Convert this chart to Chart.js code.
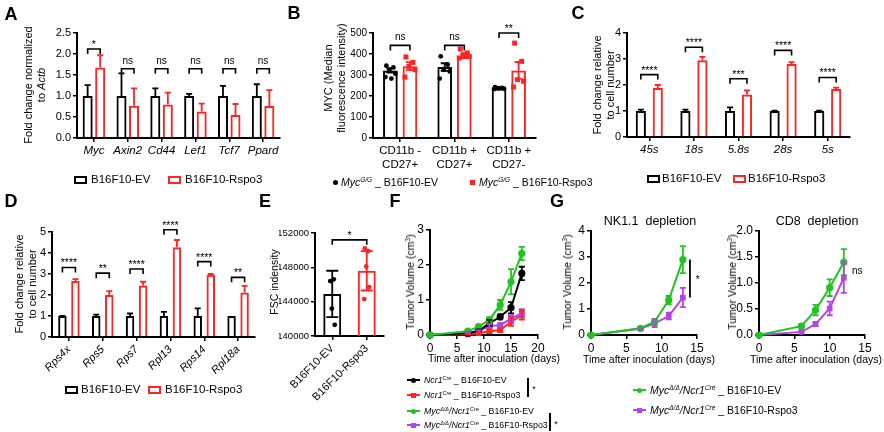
<!DOCTYPE html>
<html>
<head>
<meta charset="utf-8">
<script src="https://cdn.jsdelivr.net/npm/chart.js@4.4.1/dist/chart.umd.min.js"></script>
<style>
body { margin: 0; background: #fff; }
#fig { position: relative; width: 884px; height: 432px; overflow: hidden; background: #fff; color: #000;
       font-family: 'Liberation Sans', Arial, Helvetica, sans-serif; }
#fig canvas { position: absolute; left: 0; top: 0; pointer-events: none; }
.t { position: absolute; white-space: nowrap; line-height: 1.15; text-align: center; }
.t sup { font-size: 0.62em; line-height: 0; vertical-align: 0.6em; }
.b { position: absolute; box-sizing: border-box; }
</style>
</head>
<body>
<div id="fig"></div>
<script>
// ---- A: Wnt target genes
const genesA = ['Myc', 'Axin2', 'Cd44', 'Lef1', 'Tcf7', 'Ppard'];
const evA = [1, 1, 1, 1, 1, 1];
const evErrA = [0.26, 0.54, 0.18, 0.05, 0.24, 0.28];
const rspoA = [1.68, 0.77, 0.80, 0.63, 0.55, 0.76];
const rspoErrA = [0.29, 0.41, 0.28, 0.19, 0.26, 0.38];
const sigA = ['*', 'ns', 'ns', 'ns', 'ns', 'ns'];

// ---- B: MYC MFI in NK subsets
const subsetsB = [['CD11b -', 'CD27+'], ['CD11b +', 'CD27+'], ['CD11b +', 'CD27-']];
const evB = [322, 338, 236];
const evErrB = [10, 18, 2];
const rspoB = [342, 390, 322];
const rspoErrB = [19, 9, 40];
const evDotsB = [[344, 336, 325, 306, 290, 283], [389, 349, 325, 317, 283], [242, 239, 237, 235, 233]];
const rspoDotsB = [[386, 360, 341, 325, 290], [424, 405, 397, 389, 381], [452, 365, 278, 270, 243]];
const sigB = ['ns', 'ns', '**'];

// ---- C: rRNA
const rrnaC = ['45s', '18s', '5.8s', '28s', '5s'];
const evC = [1, 1, 1, 1, 1];
const evErrC = [0.05, 0.05, 0.14, 0.01, 0.01];
const rspoC = [1.88, 2.95, 1.63, 2.81, 1.85];
const rspoErrC = [0.12, 0.13, 0.16, 0.07, 0.05];
const sigC = ['****', '****', '***', '****', '****'];

// ---- D: ribosomal protein genes
const genesD = ['Rps4x', 'Rps5', 'Rps7', 'Rpl13', 'Rps14', 'Rpl18a'];
const evD = [1, 1, 1, 1, 1, 1];
const evErrD = [0.01, 0.07, 0.12, 0.2, 0.36, 0];
const rspoD = [2.67, 2.0, 2.45, 4.27, 2.96, 2.12];
const rspoErrD = [0.09, 0.18, 0.18, 0.35, 0.04, 0.31];
const sigD = ['****', '**', '****', '****', '****', '**'];

// ---- E: FSC
const groupsE = ['B16F10-EV', 'B16F10-Rspo3'];
const meanE = [144900, 147600];
const sdE = [2700, 2300];
const dotsE = [[146400, 146600, 143200, 141300], [150200, 149900, 148100, 145700, 144300]];

// ---- F: tumour growth, Ncr1Cre mice
const daysF = [0, 7, 9, 11, 13, 15, 17];
const ncrEvF = [0, 0.05, 0.12, 0.33, 0.52, 0.78, 1.76];
const ncrEvErrF = [0, 0.02, 0.04, 0.1, 0.07, 0.16, 0.19];
const ncrRspoF = [0, 0.02, 0.05, 0.11, 0.14, 0.38, 0.57];
const ncrRspoErrF = [0, 0.01, 0.02, 0.05, 0.04, 0.12, 0.13];
const mycEvF = [0, 0.11, 0.24, 0.43, 0.86, 1.52, 2.33];
const mycEvErrF = [0, 0.02, 0.05, 0.08, 0.14, 0.36, 0.19];
const mycRspoF = [0, 0.05, 0.1, 0.26, 0.28, 0.47, 0.62];
const mycRspoErrF = [0, 0.02, 0.03, 0.05, 0.05, 0.1, 0.12];

// ---- G: depletion experiments
const daysG1 = [0, 7, 9, 11, 13];
const evG1 = [0, 0.26, 0.51, 1.34, 2.9];
const evErrG1 = [0, 0.03, 0.1, 0.16, 0.52];
const rspoG1 = [0, 0.24, 0.45, 0.73, 1.44];
const rspoErrG1 = [0, 0.02, 0.15, 0.13, 0.37];
const daysG2 = [0, 6, 8, 10, 12];
const evG2 = [0, 0.17, 0.48, 0.91, 1.4];
const evErrG2 = [0, 0.01, 0.1, 0.16, 0.25];
const rspoG2 = [0, 0.06, 0.21, 0.51, 1.1];
const rspoErrG2 = [0, 0.01, 0.04, 0.13, 0.29];

const ncrName = '<i>Ncr1<sup>Cre</sup></i>';
const mycName = '<i>Myc<sup>Δ/Δ</sup>/Ncr1<sup>Cre</sup></i>';
const seriesF = [ncrName + ' _ B16F10-EV', ncrName + ' _ B16F10-Rspo3', mycName + ' _ B16F10-EV', mycName + ' _ B16F10-Rspo3'];

const W = 884, H = 432;
const FONT = "'Liberation Sans', Arial, Helvetica, sans-serif";
const RED = '#ff2323', GREEN = '#20c420', PURPLE = '#b244e8';
const fig = document.getElementById('fig');

const pick = (v, i) => Array.isArray(v) ? v[i] : v;

// error bars from dataset.err (up only, or both ways)
const errPlugin = {
    id: 'errs',
    afterDatasetsDraw(chart) {
        const ctx = chart.ctx, ys = chart.scales.y;
        chart.data.datasets.forEach((ds, di) => {
            if (!ds.err) return;
            const meta = chart.getDatasetMeta(di);
            meta.data.forEach((el, i) => {
                const d = ds.data[i];
                const v = typeof d === 'object' ? d.y : d;
                const e = ds.err[i];
                if (!e) return;
                const top = ys.getPixelForValue(v + e);
                const bot = ys.getPixelForValue(ds.errBoth ? v - e : v);
                const c = ds.cap || 3;
                ctx.save();
                ctx.strokeStyle = pick(ds.borderColor, i);
                ctx.lineWidth = 1.8;
                ctx.beginPath();
                ctx.moveTo(el.x, top); ctx.lineTo(el.x, bot);
                ctx.moveTo(el.x - c, top); ctx.lineTo(el.x + c, top);
                if (ds.errBoth) { ctx.moveTo(el.x - c, bot); ctx.lineTo(el.x + c, bot); }
                ctx.stroke();
                ctx.restore();
            });
        });
    }
};

// individual points on bars
const JIT = [-4, 3, -1, 5, -5, 1, 2];
const dotPlugin = {
    id: 'dots',
    afterDatasetsDraw(chart) {
        const ctx = chart.ctx, ys = chart.scales.y;
        chart.data.datasets.forEach((ds, di) => {
            if (!ds.dots) return;
            const meta = chart.getDatasetMeta(di);
            meta.data.forEach((el, i) => {
                ctx.fillStyle = pick(ds.dotColor, i);
                ds.dots[i].forEach((v, k) => {
                    const x = el.x + JIT[k % JIT.length] * (ds.jit || 1);
                    const y = ys.getPixelForValue(v);
                    const shape = pick(ds.dotShape, i);
                    ctx.beginPath();
                    if (shape === 'rect') ctx.rect(x - 2.5, y - 2.5, 5, 5);
                    else ctx.arc(x, y, 2.4, 0, Math.PI * 2);
                    ctx.fill();
                });
            });
        });
    }
};

// significance brackets and marks
const sigPlugin = {
    id: 'sig',
    afterDraw(chart, args, o) {
        const ctx = chart.ctx, ys = chart.scales.y, xs = chart.scales.x;
        ctx.save();
        ctx.strokeStyle = '#000';
        ctx.fillStyle = '#000';
        ctx.lineWidth = 1.6;
        ctx.textAlign = 'center';
        ctx.textBaseline = 'alphabetic';
        (o.brackets || []).forEach(b => {
            const x1 = chart.getDatasetMeta(b.a[0]).data[b.a[1]].x;
            const x2 = chart.getDatasetMeta(b.b[0]).data[b.b[1]].x;
            const y = ys.getPixelForValue(b.y);
            ctx.beginPath();
            ctx.moveTo(x1, y + 5); ctx.lineTo(x1, y); ctx.lineTo(x2, y); ctx.lineTo(x2, y + 5);
            ctx.stroke();
            const star = b.text.indexOf('*') >= 0;
            ctx.font = (star ? 10.5 : 10) + 'px ' + FONT;
            ctx.fillText(b.text, (x1 + x2) / 2, y - (star ? 1 : 5));
        });
        (o.marks || []).forEach(m => {
            if (m.y1 !== undefined) {
                const x = xs.getPixelForValue(m.x);
                ctx.lineWidth = 1.8;
                ctx.beginPath();
                ctx.moveTo(x, ys.getPixelForValue(m.y1)); ctx.lineTo(x, ys.getPixelForValue(m.y2));
                ctx.stroke();
            }
            ctx.font = '10px ' + FONT;
            ctx.textBaseline = 'middle';
            ctx.fillText(m.text, xs.getPixelForValue(m.tx), ys.getPixelForValue(m.ty));
        });
        ctx.restore();
    }
};

function yScale(min, max, step, size, fmt) {
    return {
        type: 'linear', min, max,
        ticks: { stepSize: step, color: '#000', padding: 2, font: { family: FONT, size }, callback: fmt || (v => String(v)) },
        grid: { drawOnChartArea: false, color: '#000', lineWidth: 1.5, tickLength: 4 },
        border: { color: '#000', width: 2 }
    };
}
function catScale(size, italic, rot) {
    return {
        type: 'category', offset: true,
        ticks: { color: '#000', padding: 2, autoSkip: false, minRotation: rot || 0, maxRotation: rot || 0,
                 font: { family: FONT, size, style: italic ? 'italic' : 'normal' } },
        grid: { offset: false, drawOnChartArea: false, color: '#000', lineWidth: 1.5, tickLength: 4 },
        border: { color: '#000', width: 2 }
    };
}

// one transparent full-size canvas per panel, chart area pinned to [left, top, right, bottom]
function makeChart(type, labels, datasets, area, yW, xH, scales, sig) {
    const cv = document.createElement('canvas');
    cv.width = W; cv.height = H;
    fig.appendChild(cv);
    scales.x.afterFit = s => { s.height = xH; };
    scales.y.afterFit = s => { s.width = yW; };
    return new Chart(cv, {
        type,
        data: { labels, datasets },
        options: {
            responsive: false, animation: false, events: [],
            layout: { padding: { left: area[0] - yW, top: area[1], right: W - area[2], bottom: H - area[3] - xH } },
            plugins: { legend: { display: false }, tooltip: { enabled: false }, sig: sig || {} },
            scales
        },
        plugins: [errPlugin, dotPlugin, sigPlugin]
    });
}

function txt(html, x, y, size, o = {}) {
    const d = document.createElement('div');
    d.className = 't';
    d.innerHTML = html;
    d.style.left = x + 'px';
    d.style.top = y + 'px';
    d.style.fontSize = size + 'px';
    if (o.bold) d.style.fontWeight = 'bold';
    d.style.transform = o.left ? 'translateY(-50%)' : 'translate(-50%,-50%)' + (o.rot ? ' rotate(' + o.rot + 'deg)' : '');
    fig.appendChild(d);
    return d;
}
function rect(x, y, w, h, css) {
    const d = document.createElement('div');
    d.className = 'b';
    d.style.cssText += `left:${x}px;top:${y}px;width:${w}px;height:${h}px;` + css;
    fig.appendChild(d);
}
function boxKey(x, y, color, html, tx) {
    rect(x, y - 4, 13, 8, `border:2px solid ${color};`);
    txt(html, tx, y, 11.5, { left: true });
}
function lineKey(x, y, color, shape, html, size) {
    rect(x, y - 1, 13, 2, `background:${color};`);
    rect(x + 4, y - 2.5, 5, 5, `background:${color};` + (shape === 'circle' ? 'border-radius:50%;' : ''));
    txt(html, x + 17, y, size, { left: true });
}
const fixed1 = v => v.toFixed(1);
const pts = (xs, ys) => xs.map((x, i) => ({ x, y: ys[i] }));

function barPair(ev, evErr, rs, rsErr, cat, bar) {
    return [
        { data: ev, err: evErr, borderColor: '#000', backgroundColor: 'rgba(0,0,0,0)', borderWidth: 2, categoryPercentage: cat, barPercentage: bar },
        { data: rs, err: rsErr, borderColor: RED, backgroundColor: 'rgba(0,0,0,0)', borderWidth: 2, categoryPercentage: cat, barPercentage: bar }
    ];
}
function brackets(sig, heights) {
    return sig.map((s, i) => ({ a: [0, i], b: [1, i], y: heights[i], text: s }));
}

// ---------- A
makeChart('bar', genesA, barPair(evA, evErrA, rspoA, rspoErrA, 0.74, 0.8), [77, 33, 280, 138], 30, 24,
    { x: catScale(11.5, true), y: yScale(0, 2.5, 0.5, 11, fixed1) },
    { brackets: brackets(sigA, [2.12, 1.65, 1.65, 1.65, 1.65, 1.65]) });
txt('Fold change normalized<br>to <i>Actb</i>', 35, 85, 11, { rot: -90 });
boxKey(74, 180, '#000', 'B16F10-EV', 91);
boxKey(168, 180, RED, 'B16F10-Rspo3', 185);

// ---------- B
const dsB = barPair(evB, evErrB, rspoB, rspoErrB, 0.72, 0.75);
dsB.forEach(d => { d.errBoth = true; d.cap = 4; });
Object.assign(dsB[0], { dots: evDotsB, dotColor: '#000', dotShape: 'circle' });
Object.assign(dsB[1], { dots: rspoDotsB, dotColor: RED, dotShape: 'rect' });
makeChart('bar', subsetsB, dsB, [373, 33, 536, 138], 30, 34,
    { x: catScale(11.5, false), y: yScale(0, 500, 100, 10) },
    { brackets: brackets(sigB, [441, 441, 500]) });
txt('MYC (Median<br>fluorescence intensity)', 335, 78, 11, { rot: -90 });
rect(333, 179.5, 5, 5, 'background:#000;border-radius:50%;');
txt('<i>Myc<sup>G/G</sup></i> _ B16F10-EV', 341, 182, 10.5, { left: true });
rect(470, 179.5, 5, 5, `background:${RED};`);
txt('<i>Myc<sup>G/G</sup></i> _ B16F10-Rspo3', 479, 182, 10.5, { left: true });

// ---------- C
makeChart('bar', rrnaC, barPair(evC, evErrC, rspoC, rspoErrC, 0.76, 0.6), [627, 33, 850, 137], 30, 24,
    { x: catScale(11.5, true), y: yScale(0, 4, 1, 11) },
    { brackets: brackets(sigC, [2.4, 3.45, 2.24, 3.33, 2.29]) });
txt('Fold change relative<br>to cell number', 604, 85, 11, { rot: -90 });
boxKey(647, 179, '#000', 'B16F10-EV', 662);
boxKey(733, 179, RED, 'B16F10-Rspo3', 748);

// ---------- D
makeChart('bar', genesD, barPair(evD, evErrD, rspoD, rspoErrD, 0.77, 0.65), [52, 232, 255, 337], 30, 45,
    { x: catScale(11, true, 45), y: yScale(0, 5, 1, 11) },
    { brackets: brackets(sigD, [3.31, 3.04, 3.24, 5.11, 3.59, 2.84]) });
txt('Fold change relative<br>to cell number', 26, 284, 11, { rot: -90 });
boxKey(65, 390, '#000', 'B16F10-EV', 81);
boxKey(148, 390, RED, 'B16F10-Rspo3', 165);

// ---------- E
makeChart('bar', groupsE, [{
    data: meanE, err: sdE, errBoth: true, cap: 6, borderColor: ['#000', RED], backgroundColor: 'rgba(0,0,0,0)',
    borderWidth: 2, categoryPercentage: 1, barPercentage: 0.52,
    dots: dotsE, dotColor: ['#000', RED], dotShape: 'circle', jit: 0.5
}], [315, 233, 384, 336], 36, 80,
    { x: catScale(11, false, 45), y: yScale(140000, 152000, 4000, 9.5) },
    { brackets: [{ a: [0, 0], b: [0, 1], y: 151200, text: '*' }] });
txt('FSC indensity', 274, 282, 10.5, { rot: -90 });

// ---------- F
function lineSet(days, vals, err, color, shape) {
    return { data: pts(days, vals), err, errBoth: true, cap: 3, borderColor: color, backgroundColor: color,
             borderWidth: 2, pointStyle: shape, pointRadius: 2.6, tension: 0, clip: false };
}
makeChart('line', null, [
    lineSet(daysF, mycEvF, mycEvErrF, GREEN, 'circle'),
    lineSet(daysF, ncrEvF, ncrEvErrF, '#000', 'circle'),
    lineSet(daysF, mycRspoF, mycRspoErrF, PURPLE, 'rect'),
    lineSet(daysF, ncrRspoF, ncrRspoErrF, RED, 'rect')
], [430, 230, 538, 335], 20, 20,
    { x: yScale(0, 20, 5, 12), y: yScale(0, 3, 1, 12) });
txt('Tumor Volume (cm<sup>3</sup>)', 410, 282, 10.5, { rot: -90 });
txt('Time after inoculation (days)', 494, 358, 10.5);
const colorsF = ['#000', RED, GREEN, PURPLE];
const shapesF = ['circle', 'rect', 'circle', 'rect'];
[380, 395, 411, 425].forEach((y, i) => lineKey(407, y, colorsF[i], shapesF[i], seriesF[i], 8.8));
rect(527, 378, 2, 19, 'background:#000;');
txt('*', 534, 389, 9);
rect(549, 413, 2, 18, 'background:#000;');
txt('*', 556, 424, 9);

// ---------- G
makeChart('line', null, [
    lineSet(daysG1, evG1, evErrG1, GREEN, 'circle'),
    lineSet(daysG1, rspoG1, rspoErrG1, PURPLE, 'rect')
], [591, 231, 697, 335], 20, 20,
    { x: yScale(0, 15, 5, 12), y: yScale(0, 4, 1, 12) },
    { marks: [{ x: 14, y1: evG1[4], y2: rspoG1[4], text: '*', tx: 15.1, ty: 2.1 }] });
txt('NK1.1&nbsp; depletion', 650, 221, 12.5);
txt('Tumor Volume (cm<sup>3</sup>)', 567, 282, 10.5, { rot: -90 });
txt('Time after inoculation (days)', 649, 359, 10.5);

makeChart('line', null, [
    lineSet(daysG2, evG2, evErrG2, GREEN, 'circle'),
    lineSet(daysG2, rspoG2, rspoErrG2, PURPLE, 'rect')
], [759, 231, 865, 335], 26, 20,
    { x: yScale(0, 15, 5, 12), y: yScale(0, 2, 0.5, 12, fixed1) },
    { marks: [{ x: 14, text: 'ns', tx: 13.9, ty: 1.22 }] });
txt('CD8&nbsp; depletion', 817, 221, 12.5);
txt('Tumor Volume (cm<sup>3</sup>)', 732, 282, 10.5, { rot: -90 });
txt('Time after inoculation (days)', 816, 359, 10.5);
lineKey(633, 390, GREEN, 'circle', seriesF[2], 10.5);
lineKey(633, 410, PURPLE, 'rect', seriesF[3], 10.5);

// ---------- panel letters
[['A', 11, 14], ['B', 294, 13], ['C', 578, 13], ['D', 11, 201], ['E', 265, 201], ['F', 395, 201], ['G', 557, 201]]
    .forEach(([l, x, y]) => txt(l, x, y, 18, { bold: true }));
</script>
</body>
</html>
